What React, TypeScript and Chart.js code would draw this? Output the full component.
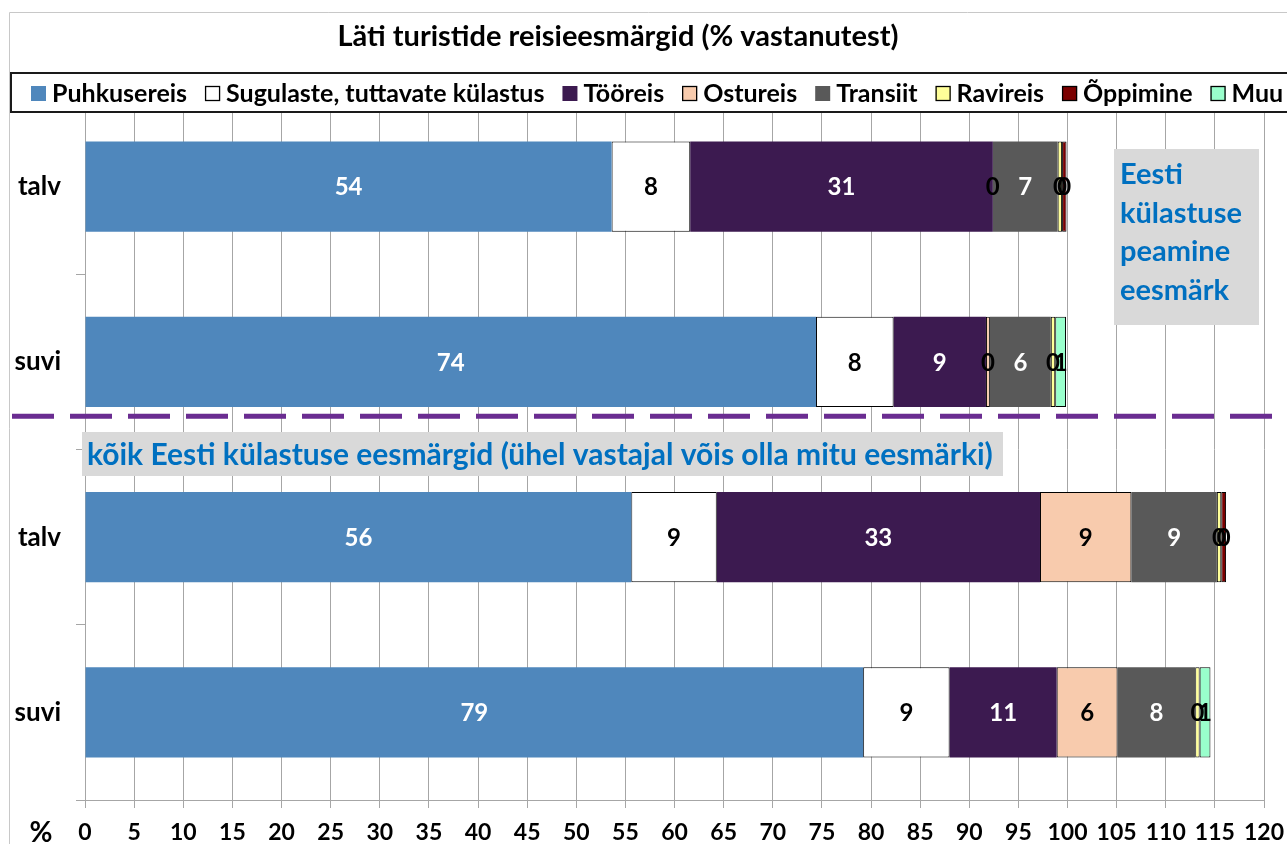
import { useEffect, useRef } from "react";
import { Chart, registerables } from "chart.js";

Chart.register(...registerables);

const titleText = "Läti turistide reisieesmärgid (% vastanutest)";
const categories = ["talv", "suvi", "talv", "suvi"];
const seriesNames = [
  "Puhkusereis",
  "Sugulaste, tuttavate külastus",
  "Tööreis",
  "Ostureis",
  "Transiit",
  "Ravireis",
  "Õppimine",
  "Muu",
];
const puhkusereis = [53.6, 74.4, 55.6, 79.2];
const sugulaste = [8.0, 7.9, 8.7, 8.8];
const tooreis = [30.8, 9.4, 32.9, 10.9];
const ostureis = [0, 0.4, 9.3, 6.2];
const transiit = [6.6, 6.2, 8.7, 7.9];
const ravireis = [0.45, 0.45, 0.45, 0.45];
const oppimine = [0.45, null, 0.49, null];
const muu = [null, 1.1, null, 1.1];

const seriesColors = ["#4f87bc", "#ffffff", "#3c1a50", "#f8cbad", "#595959", "#ffff99", "#7b0000", "#99ffcc"];
const seriesBorders = [0, 1, 0, 1, 0, 1, 1, 1];
const labelColors = ["#ffffff", "#000000", "#ffffff", "#000000", "#ffffff", "#000000", "#000000", "#000000"];

const topNote = ["Eesti", "külastuse", "peamine", "eesmärk"];
const bottomNote = "kõik Eesti külastuse eesmärgid (ühel vastajal võis olla mitu eesmärki)";
const axisUnit = "%";

const FONT = "Lato, 'Open Sans', sans-serif";
const GRID = "#a6a6a6";

const barLabels = {
  id: "barLabels",
  afterDatasetsDraw(chart: any) {
    const ctx = chart.ctx;
    ctx.save();
    ctx.font = `bold 24px ${FONT}`;
    ctx.textAlign = "center";
    ctx.textBaseline = "middle";
    chart.data.datasets.forEach((ds: any, di: number) => {
      const meta = chart.getDatasetMeta(di);
      meta.data.forEach((el: any, i: number) => {
        const v = ds.data[i];
        if (v === null || v === undefined) return;
        const p = el.getProps(["x", "y", "base"], true);
        const cx = (p.x + p.base) / 2;
        ctx.fillStyle = v >= 2 ? labelColors[di] : "#000000";
        ctx.fillText(String(Math.round(v)), cx, p.y + 1);
      });
    });
    ctx.restore();
  },
};

const decor = {
  id: "decor",
  beforeDraw(chart: any) {
    const ctx = chart.ctx;
    ctx.save();
    ctx.fillStyle = "#ffffff";
    ctx.fillRect(0, 0, chart.width, chart.height);
    ctx.strokeStyle = "#c8c8c8";
    ctx.lineWidth = 1;
    ctx.beginPath();
    ctx.moveTo(9.5, chart.height);
    ctx.lineTo(9.5, 12.5);
    ctx.lineTo(chart.width, 12.5);
    ctx.stroke();
    ctx.restore();
  },
  afterDraw(chart: any) {
    const ctx = chart.ctx;
    const yScale = chart.scales.y;
    const band = yScale.getPixelForValue(1) - yScale.getPixelForValue(0);
    ctx.save();

    // title
    ctx.fillStyle = "#000000";
    ctx.font = `bold 29px ${FONT}`;
    ctx.textAlign = "center";
    ctx.textBaseline = "middle";
    ctx.fillText(titleText, 618, 37);

    // legend box
    ctx.fillStyle = "#ffffff";
    ctx.fillRect(10, 72, chart.width, 41);
    ctx.strokeStyle = "#1a1a1a";
    ctx.lineWidth = 2;
    ctx.strokeRect(11, 73, chart.width + 10, 39);

    ctx.font = `bold 25px ${FONT}`;
    ctx.textAlign = "left";
    ctx.textBaseline = "middle";
    let lx = 31;
    const ly = 93;
    seriesNames.forEach((name, i) => {
      ctx.fillStyle = seriesColors[i];
      ctx.fillRect(lx, ly - 7, 15, 15);
      if (seriesBorders[i] > 0) {
        ctx.strokeStyle = "#000000";
        ctx.lineWidth = 1.3;
        ctx.strokeRect(lx + 0.5, ly - 6.5, 14, 14);
      }
      ctx.fillStyle = "#000000";
      ctx.fillText(name, lx + 21, ly + 1);
      lx += 21 + ctx.measureText(name).width + 18;
    });

    // dashed separator
    const dashY = yScale.getPixelForValue(1) + band * 0.31;
    ctx.strokeStyle = "#6a2c91";
    ctx.lineWidth = 5;
    ctx.setLineDash([42, 16]);
    ctx.beginPath();
    ctx.moveTo(12, dashY);
    ctx.lineTo(chart.width, dashY);
    ctx.stroke();
    ctx.setLineDash([]);

    // top-right note
    ctx.fillStyle = "#d9d9d9";
    ctx.fillRect(1114, 149, 145, 176);
    ctx.fillStyle = "#0070c0";
    ctx.font = `bold 29px ${FONT}`;
    ctx.textAlign = "left";
    topNote.forEach((line, i) => {
      ctx.fillText(line, 1120, 175 + i * 38.5);
    });

    // bottom note
    ctx.fillStyle = "#d9d9d9";
    ctx.fillRect(82, 432, 921, 44);
    ctx.fillStyle = "#0070c0";
    ctx.font = `bold 30px ${FONT}`;
    ctx.fillText(bottomNote, 87, 455);

    // % unit
    ctx.fillStyle = "#000000";
    ctx.font = `bold 28px ${FONT}`;
    ctx.textAlign = "center";
    ctx.fillText(axisUnit, 41, 833);

    ctx.restore();
  },
};

export default function App() {
  const ref = useRef<HTMLCanvasElement>(null);
  useEffect(() => {
    if (!ref.current) return;
    const seriesData = [puhkusereis, sugulaste, tooreis, ostureis, transiit, ravireis, oppimine, muu];
    const chart = new Chart(ref.current, {
      type: "bar",
      data: {
        labels: categories,
        datasets: seriesNames.map((name, i) => ({
          label: name,
          data: seriesData[i] as any,
          backgroundColor: seriesColors[i],
          borderColor: "#000000",
          borderWidth: seriesBorders[i],
          borderSkipped: false,
          barPercentage: 0.514,
          categoryPercentage: 1,
        })),
      },
      options: {
        indexAxis: "y",
        animation: false,
        responsive: false,
        maintainAspectRatio: false,
        layout: { padding: { top: 99, right: 23, left: 0, bottom: 0 } },
        plugins: {
          legend: { display: false },
          title: { display: false },
          tooltip: { enabled: false },
        },
        scales: {
          x: {
            stacked: true,
            min: 0,
            max: 120,
            afterFit: (s: any) => {
              s.height = 44;
              s.paddingRight = 0;
              s.paddingLeft = 0;
            },
            ticks: {
              stepSize: 5,
              color: "#000000",
              font: { family: FONT, size: 23, weight: "bold" },
              padding: 11,
              maxRotation: 0,
              autoSkip: false,
            },
            grid: { color: GRID, tickLength: 8, lineWidth: 1 },
            border: { color: GRID },
          },
          y: {
            stacked: true,
            afterFit: (s: any) => {
              s.width = 85;
            },
            ticks: {
              color: "#000000",
              font: { family: FONT, size: 26, weight: "bold" },
              padding: 15,
            },
            grid: { drawOnChartArea: false, offset: true, tickLength: 9, color: GRID },
            border: { display: false },
          },
        },
      },
      plugins: [decor, barLabels],
    });
    return () => chart.destroy();
  }, []);
  return (
    <div style={{ position: "absolute", left: 0, top: 0, width: 1287, height: 844, background: "#fff" }}>
      <canvas ref={ref} width={1287} height={844} />
    </div>
  );
}
